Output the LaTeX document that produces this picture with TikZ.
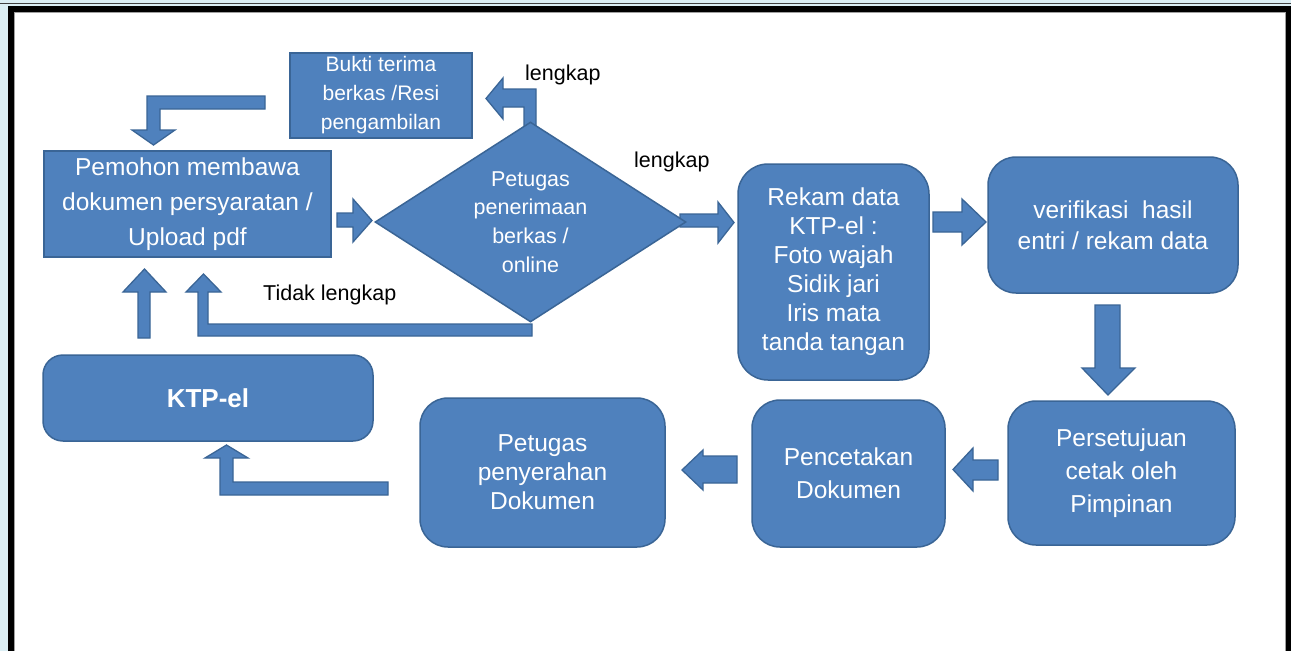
\documentclass[tikz,border=0pt]{standalone}
\usepackage{fontspec}
\setmainfont{Liberation Sans}
\usetikzlibrary{shapes.geometric}
\definecolor{bfill}{HTML}{4F81BD}
\definecolor{bdraw}{HTML}{3A6596}
\definecolor{bgblue}{HTML}{DBEEF4}
\definecolor{frameshade}{HTML}{A0A0A0}
\begin{document}
\begin{tikzpicture}[x=1pt,y=-1pt,
  box/.style={draw=bdraw, fill=bfill, line width=1.5pt, text=white, align=center, inner sep=0pt,
              font=\fontsize{24.5}{33}\selectfont},
  rbox/.style={box, rounded corners=28pt},
  blk/.style={draw=bdraw, fill=bfill, line width=1.3pt, line join=miter},
  lbl/.style={text=black, inner sep=0pt, font=\fontsize{21.5}{26}\selectfont}]
\useasboundingbox (0,0) rectangle (1291,651);
% frame
\fill[bgblue] (0,0) rectangle (1291,651);
\draw[black!75, line width=1pt] (0,3.5) -- (1291,3.5);
\fill[white] (8,6) rectangle (1291,651);
\draw[black, line width=5.5pt, line join=miter] (10.75,651) -- (10.75,8.75) -- (1288.25,8.75) -- (1288.25,651);
\draw[frameshade, line width=1pt] (14,651) -- (14,12) -- (1285,12) -- (1285,651);

% block arrows
\draw[blk] (265,96) -- (147,96) -- (147,130) -- (132,130) -- (153.5,145) -- (175,130) -- (160,130) -- (160,109) -- (265,109) -- cycle;
\draw[blk] (524,126) -- (524,107) -- (503,107) -- (503,119) -- (486,98.5) -- (503,78) -- (503,89) -- (536,89) -- (536,126) -- cycle;
\draw[blk] (337,213) -- (353,213) -- (353,199) -- (372,220.5) -- (353,242) -- (353,227) -- (337,227) -- cycle;
\draw[blk] (680,214) -- (718,214) -- (718,202) -- (734,222.5) -- (718,243) -- (718,227) -- (680,227) -- cycle;
\draw[blk] (933,212) -- (962,212) -- (962,199) -- (986,222) -- (962,245) -- (962,232) -- (933,232) -- cycle;
\draw[blk] (1095,305) -- (1095,368) -- (1082,368) -- (1108,395) -- (1135,368) -- (1120,368) -- (1120,305) -- cycle;
\draw[blk] (998,460) -- (973,460) -- (973,448) -- (953,469.5) -- (973,491) -- (973,480) -- (998,480) -- cycle;
\draw[blk] (737,456) -- (703,456) -- (703,450) -- (682,470) -- (703,490) -- (703,483) -- (737,483) -- cycle;
\draw[blk] (388,482) -- (233,482) -- (233,458) -- (248,458) -- (226.5,445) -- (205,458) -- (220,458) -- (220,495) -- (388,495) -- cycle;
\draw[blk] (138,338) -- (138,292) -- (123,292) -- (144.5,269) -- (166,292) -- (150,292) -- (150,338) -- cycle;
\draw[blk] (532,324) -- (208,324) -- (208,292) -- (221,292) -- (203.5,274) -- (186,292) -- (198,292) -- (198,336) -- (532,336) -- cycle;

% boxes
\node[box, minimum width=287pt, minimum height=106pt, font=\fontsize{24.5}{35}\selectfont] (pemohon) at (187.5,204)
  {Pemohon membawa\\dokumen persyaratan /\\Upload pdf};
\node[box, minimum width=182pt, minimum height=85pt, font=\fontsize{21}{29}\selectfont] (bukti) at (381,95.5)
  {Bukti terima\\berkas /Resi\\pengambilan};
\node[box, diamond, aspect=1.55, minimum width=311pt, minimum height=200pt, font=\fontsize{21.5}{28.7}\selectfont] (petugas) at (530.5,222)
  {Petugas\\penerimaan\\berkas /\\online};
\node[rbox, rounded corners=30pt, minimum width=191pt, minimum height=216pt, font=\fontsize{24.5}{29}\selectfont] (rekam) at (833.5,272)
  {Rekam data\\KTP-el :\\Foto wajah\\Sidik jari\\Iris mata\\tanda tangan};
\node[rbox, minimum width=250pt, minimum height=136pt, font=\fontsize{24.5}{31}\selectfont] (verif) at (1113,225)
  {verifikasi\ \ hasil\\entri / rekam data};
\node[rbox, minimum width=227pt, minimum height=144pt] (setuju) at (1121.5,473)
  {Persetujuan\\cetak oleh\\Pimpinan};
\node[rbox, minimum width=193pt, minimum height=147pt] (cetak) at (848.5,473.5)
  {Pencetakan\\Dokumen};
\node[rbox, minimum width=245pt, minimum height=149pt, font=\fontsize{24.5}{29}\selectfont] (serah) at (542.5,472.5)
  {Petugas\\penyerahan\\Dokumen};
\node[rbox, rounded corners=20pt, minimum width=330pt, minimum height=86pt, font=\fontsize{26}{30}\selectfont\bfseries] (ktp) at (208,398)
  {KTP-el};

% labels
\node[lbl, anchor=west] (l1) at (525,75) {lengkap};
\node[lbl, anchor=west] (l2) at (634,162) {lengkap};
\node[lbl, anchor=west] (l3) at (263,295) {Tidak lengkap};
\end{tikzpicture}
\end{document}
